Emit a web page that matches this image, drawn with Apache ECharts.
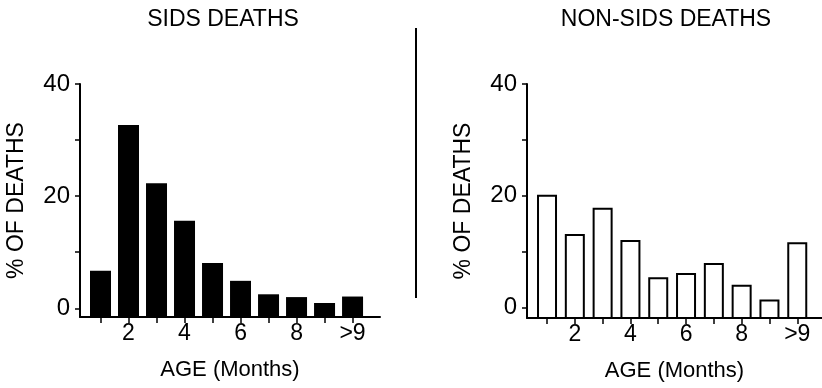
<!DOCTYPE html>
<html>
<head>
<meta charset="utf-8">
<script src="https://cdn.jsdelivr.net/npm/echarts@6/dist/echarts.min.js"></script>
<style>
  html, body { margin: 0; padding: 0; background: #fff; }
  #chart { width: 822px; height: 388px; }
</style>
</head>
<body>
<div id="chart"></div>
<script>
// age in months, one bar each
const ages = ['1', '2', '3', '4', '5', '6', '7', '8', '9', '>9']
// percent of deaths
const sidsPct = [6.7, 32.7, 22.3, 15.6, 8.1, 4.9, 2.5, 2.0, 0.95, 2.1]
const nonSidsPct = [20.0, 13.0, 17.7, 11.9, 5.25, 6.0, 7.8, 3.9, 1.3, 11.5]
const yTicks = [0, 10, 20, 30, 40]
const yLabels = [0, 20, 40]
const xLabels = [2, 4, 6, 8, 10]

const font = 'Liberation Sans'
const ink = '#000'

function toPoints (vals) {
  return vals.map((v, i) => [i + 1, v])
}

// bars are drawn from the axis line (which sits a little below 0) up to the value
function barRenderer (w, style) {
  return function (params, api) {
    let top = api.coord([api.value(0), api.value(1)])
    let bottom = params.coordSys.y + params.coordSys.height
    return {
      type: 'rect',
      shape: { x: top[0] - w / 2, y: top[1], width: w, height: bottom - top[1] },
      style: style
    }
  }
}

function xAxisOpt (idx, min, max) {
  return {
    type: 'value',
    gridIndex: idx,
    min: min,
    max: max,
    name: 'AGE (Months)',
    nameLocation: 'middle',
    nameGap: 42,
    nameTextStyle: { fontFamily: font, fontSize: 22, color: ink },
    splitLine: { show: false },
    axisLine: { show: true, onZero: false, lineStyle: { color: ink, width: 2 } },
    axisTick: { show: true, customValues: ages.map((a, i) => i + 1), length: 6, lineStyle: { color: ink, width: 1.5 } },
    axisLabel: {
      customValues: xLabels,
      formatter: v => ages[v - 1],
      margin: 5,
      fontFamily: font,
      fontSize: 23,
      color: ink
    }
  }
}

function yAxisOpt (idx, min) {
  return {
    type: 'value',
    gridIndex: idx,
    min: min,
    max: 40,
    name: '% OF DEATHS',
    nameLocation: 'middle',
    nameGap: 52,
    nameTextStyle: { fontFamily: font, fontSize: 23, color: ink },
    splitLine: { show: false },
    axisLine: { show: true, onZero: false, lineStyle: { color: ink, width: 2 } },
    axisTick: { show: true, customValues: yTicks, length: 5, lineStyle: { color: ink, width: 1.5 } },
    axisLabel: {
      customValues: yLabels,
      margin: 10,
      fontFamily: font,
      fontSize: 24,
      color: ink
    }
  }
}

let myChart = echarts.init(document.getElementById('chart'), null, { renderer: 'canvas' })
myChart.setOption({
  backgroundColor: '#fff',
  animation: false,
  title: [
    {
      text: 'SIDS DEATHS',
      left: 223,
      top: 8,
      padding: 0,
      textAlign: 'center',
      textStyle: { fontFamily: font, fontSize: 23, fontWeight: 'normal', color: ink }
    },
    {
      text: 'NON-SIDS DEATHS',
      left: 666,
      top: 8,
      padding: 0,
      textAlign: 'center',
      textStyle: { fontFamily: font, fontSize: 23, fontWeight: 'normal', color: ink }
    }
  ],
  graphic: [
    {
      type: 'line',
      shape: { x1: 416, y1: 28, x2: 416, y2: 298 },
      style: { stroke: ink, lineWidth: 2 }
    }
  ],
  grid: [
    { left: 80, top: 84, width: 300, height: 233 },
    { left: 527, top: 84, right: 0, height: 234 }
  ],
  xAxis: [
    xAxisOpt(0, 0.268, 10.98),
    xAxisOpt(1, 0.28, 10.89)
  ],
  yAxis: [
    yAxisOpt(0, -1.55),
    yAxisOpt(1, -1.85)
  ],
  series: [
    {
      name: 'SIDS',
      type: 'custom',
      xAxisIndex: 0,
      yAxisIndex: 0,
      renderItem: barRenderer(21, { fill: ink }),
      data: toPoints(sidsPct)
    },
    {
      name: 'NON-SIDS',
      type: 'custom',
      xAxisIndex: 1,
      yAxisIndex: 1,
      renderItem: barRenderer(18, { fill: '#fff', stroke: ink, lineWidth: 2 }),
      data: toPoints(nonSidsPct)
    }
  ]
})
</script>
</body>
</html>
